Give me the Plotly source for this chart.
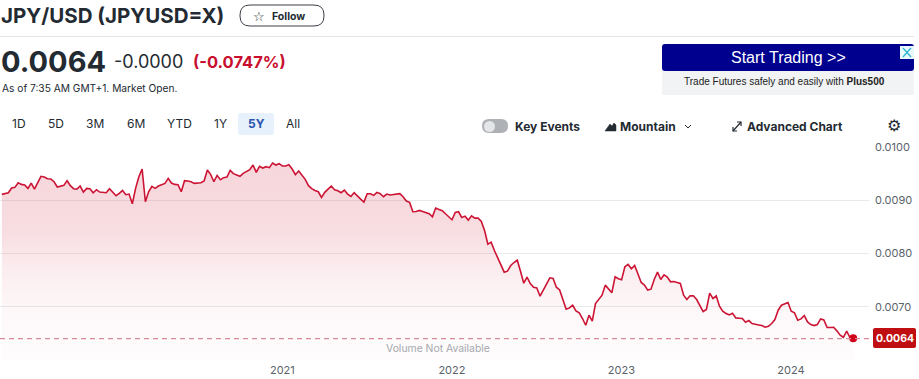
import pandas as pd
import plotly.graph_objects as go

rate_values = [
 .009110,.009123,.009141,.009229,.009242,.009329,.009298,.009286,.009223,.009323,.009210,.009330,.009449,.009436,.009405,.009398,.009348,.009248,.009260,.009279,
 .009367,.009273,.009217,.009210,.009267,.009154,.009223,.009217,.009141,.009198,.009154,.009141,.009141,.009217,.009141,.009085,.009129,.009185,.009104,.009116,
 .008934,.009223,.009442,.009587,.008972,.009160,.009260,.009223,.009267,.009292,.009317,.009411,.009323,.009298,.009292,.009160,.009367,.009361,.009348,.009317,
 .009329,.009329,.009361,.009568,.009486,.009348,.009467,.009386,.009424,.009436,.009561,.009499,.009474,.009449,.009505,.009543,.009574,.009662,.009524,.009637,
 .009605,.009630,.009612,.009699,.009662,.009687,.009643,.009643,.009668,.009587,.009480,.009549,
 .009474,.009392,.009273,.009217,.009185,.009160,.009054,.009148,.009210,.009267,.009198,.009179,.009141,.009192,.009116,.009072,.009141,.009072,.009022,.008966,
 .009123,.009123,.009091,.009148,.009123,.009066,.009116,.009098,.009104,.009116,.009123,.009066,.008985,.008960,.008784,.008790,.008809,.008790,.008771,.008746,
 .008690,.008853,.008828,.008803,.008746,.008696,.008634,.008771,.008784,.008677,.008702,.008627,.008709,.008665,.008665,.008602,.008427,.008176,.008213,.008057,
 .007919,.007781,.007649,.007668,.007774,.007831,.007875,.007668,.007442,.007555,.007436,.007367,.007354,.007198,.007311,.007436,.007543,.007530,.007367,.007317,
 .007141,.006953,.006978,.007028,
 .006923,.006885,.006779,.006653,.006841,.006728,.007061,.007136,.007217,.007406,.007330,.007261,.007562,.007525,.007506,.007750,.007794,.007713,.007775,.007594,
 .007456,.007406,.007312,.007330,.007512,.007650,.007512,.007600,.007556,.007468,.007475,.007456,.007437,.007217,.007136,.007205,.007205,.007136,.007011,.006910,
 .006948,.007255,.007155,.007205,.007011,.006916,.006873,.006848,.006879,.006791,.006785,.006779,.006710,.006741,.006685,.006678,.006659,.006647,.006615,.006634,
 .006685,.006760,.006935,.007029,.007048,.007079,.006916,.006885,.006747,.006772,.006835,.006716,.006666,.006647,.006666,.006772,.006753,.006609,.006609,.006615,
 .006547,.006465,.006427,.006540,.006421,.006409,
]
first_date = "2019-05-08"
last_date = "2024-05-14"
year_ticks = ["2021-01-01", "2022-01-01", "2023-01-01", "2024-01-01"]
year_labels = ["2021", "2022", "2023", "2024"]
price_ticks = [0.0100, 0.0090, 0.0080, 0.0070]
price_labels = ["0.0100", "0.0090", "0.0080", "0.0070"]
range_labels = ["1D", "5D", "3M", "6M", "YTD", "1Y", "5Y", "All"]
range_x = [19, 56, 95, 136, 179, 220, 256, 293]
last_price = 0.0064

W, H = 919, 379
dates = pd.date_range(first_date, last_date, periods=len(rate_values))
X = lambda p: p / W
Y = lambda p: 1 - p / H
RED = "#cc1434"
INK = "#232a31"
FONT = "Inter, Open Sans, sans-serif"

fig = go.Figure()
fig.add_trace(go.Scatter(
    x=dates, y=rate_values, mode="lines", line=dict(color=RED, width=1.6), fill="tozeroy",
    fillgradient=dict(type="vertical", start=0.0098, stop=0.0060,
                      colorscale=[[0, "rgba(210,50,75,0.20)"], [0.35, "rgba(210,50,75,0.17)"], [0.55, "rgba(210,50,75,0.09)"], [0.75, "rgba(200,60,85,0.04)"], [1, "rgba(190,90,110,0.015)"]]),
    hoverinfo="skip", showlegend=False))
fig.add_trace(go.Scatter(x=[dates[-1]], y=[rate_values[-1]], mode="markers",
                         marker=dict(color="#d0021b", size=8), hoverinfo="skip", showlegend=False))

shapes, notes = [], []

def rect(x0, y0, x1, y1, fill, line=None, r=0, width=1):
    if r:
        p = (f"M{X(x0+r)},{Y(y0)} L{X(x1-r)},{Y(y0)} Q{X(x1)},{Y(y0)} {X(x1)},{Y(y0+r)} L{X(x1)},{Y(y1-r)} "
             f"Q{X(x1)},{Y(y1)} {X(x1-r)},{Y(y1)} L{X(x0+r)},{Y(y1)} Q{X(x0)},{Y(y1)} {X(x0)},{Y(y1-r)} "
             f"L{X(x0)},{Y(y0+r)} Q{X(x0)},{Y(y0)} {X(x0+r)},{Y(y0)} Z")
        shapes.append(dict(type="path", xref="paper", yref="paper", path=p, fillcolor=fill,
                           line=dict(color=line or "rgba(0,0,0,0)", width=width)))
    else:
        shapes.append(dict(type="rect", xref="paper", yref="paper", x0=X(x0), x1=X(x1), y0=Y(y0), y1=Y(y1),
                           fillcolor=fill, line=dict(color=line or "rgba(0,0,0,0)", width=width if line else 0)))

def seg(pts, color, width=1.5, fill=None):
    p = "M" + " L".join(f"{X(a)},{Y(b)}" for a, b in pts) + (" Z" if fill else "")
    shapes.append(dict(type="path", xref="paper", yref="paper", path=p, fillcolor=fill or "rgba(0,0,0,0)",
                       line=dict(color=color, width=width)))

def text(x, y, s, size=12, color=INK, anchor="left", family=FONT):
    notes.append(dict(xref="paper", yref="paper", x=X(x), y=Y(y), text=s, showarrow=False, xanchor=anchor,
                      yanchor="middle", font=dict(size=size, color=color, family=family),
                      borderpad=0, borderwidth=0))

# Page header
text(1, 15, "<b>JPY/USD (JPYUSD=X)</b>", 20.5)
rect(240, 5, 324, 26, "white", "#3a3f45", r=10)
text(259, 16, "☆", 13, family="DejaVu Sans", anchor="center")
text(272, 16, "<b>Follow</b>", 10.5)
rect(0, 36, 914, 37, "#e3e5e8")
text(1, 62, "<b>0.0064</b>", 29)
text(114, 62, "-0.0000", 18)
text(193, 62, "<b>(-0.0747%)</b>", 16.5, color="#c8102e")
text(2, 88, "As of 7:35 AM GMT+1. Market Open.", 10.2)

# Ad
rect(662, 44, 914, 71, "#00008f", r=3)
rect(662, 71, 914, 95, "#f1f3f5")
rect(900, 46, 914, 59, "#eaf8fb")
seg([(903, 48), (911, 57)], "#27b5d0", 1.2)
seg([(911, 48), (903, 57)], "#27b5d0", 1.2)
text(788, 57, "Start Trading >>", 16, "white", "center", "Liberation Sans")
text(784, 82, "Trade Futures safely and easily with <b>Plus500</b>", 10, "#222", "center", "Liberation Sans")

# Toolbar
rect(238, 113, 274, 135, "#e6f1fb", r=3)
for lab, x in zip(range_labels, range_x):
    text(x, 124, f"<b>{lab}</b>" if lab == "5Y" else lab, 12, "#2a55b0" if lab == "5Y" else INK, "center")
rect(482, 119, 508, 133, "#aeb1b5", r=7)
shapes.append(dict(type="circle", xref="paper", yref="paper", x0=X(484), x1=X(495), y0=Y(121), y1=Y(132),
                   fillcolor="#e4e6e8", line=dict(width=0)))
text(515, 127, "<b>Key Events</b>", 12)
seg([(605, 131), (610, 124), (612, 126), (614, 123), (616, 125), (616, 125), (616, 131)], INK, 0.5, INK)
text(620, 126, "<b>Mountain</b>", 12)
seg([(685, 125), (688, 128), (691, 125)], INK, 1)
seg([(733, 131), (741, 122)], INK, 1.2)
seg([(737, 122), (741, 122), (741, 126)], INK, 1.2)
seg([(733, 127), (733, 131), (737, 131)], INK, 1.2)
text(747, 126, "<b>Advanced Chart</b>", 12)
text(894, 125, "⚙", 16, anchor="center", family="DejaVu Sans")

# Chart overlays
shapes.append(dict(type="line", xref="paper", yref="y", x0=0, x1=X(872), y0=last_price, y1=last_price,
                   line=dict(color="#d98a98", width=1.2, dash="5px,4px")))
text(438, 348, "Volume Not Available", 10.4, "#a4a8ad", "center")
rect(873, 328, 916, 348, "#c00f12", r=2)
text(894.5, 338, "<b>0.0064</b>", 10.5, "white", "center")

fig.update_layout(
    width=W, height=H, autosize=False, margin=dict(l=0, r=0, t=0, b=0),
    paper_bgcolor="white", plot_bgcolor="white", showlegend=False, font=dict(family=FONT),
    shapes=shapes, annotations=notes,
    xaxis=dict(domain=[0, 869 / W], range=["2019-05-04", "2024-06-17"], tickvals=year_ticks, ticktext=year_labels,
               showgrid=False, zeroline=False, showline=False, ticks="", automargin=False,
               tickfont=dict(size=11, color="#5b636a", family=FONT), ticklabelstandoff=2),
    yaxis=dict(domain=[1 - 360 / H, 1 - 147 / H], range=[0.0060, 0.0100], side="right", tickvals=price_ticks,
               ticktext=price_labels, gridcolor="#e9eaec", gridwidth=1, zeroline=False, showline=False, ticks="",
               automargin=False, tickfont=dict(size=11, color="#5b636a", family=FONT), ticklabelstandoff=5),
)
fig.write_html("out.html", config=dict(displayModeBar=False),
               post_script="document.body.style.margin='0';document.body.style.overflow='hidden';")
